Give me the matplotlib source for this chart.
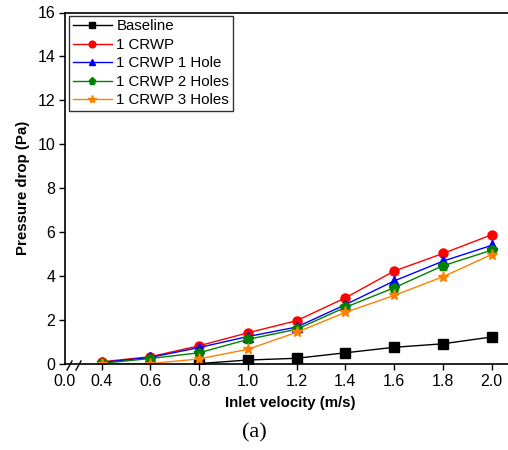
import matplotlib
matplotlib.use("Agg")
import matplotlib.pyplot as plt

plt.rcParams['font.family'] = ['Liberation Sans', 'DejaVu Sans']

velocity = [0.4, 0.6, 0.8, 1.0, 1.2, 1.4, 1.6, 1.8, 2.0]
baseline_v = [0.8, 1.0, 1.2, 1.4, 1.6, 1.8, 2.0]
baseline = [0.02, 0.18, 0.26, 0.51, 0.76, 0.92, 1.23]
crwp = [0.10, 0.33, 0.83, 1.42, 1.97, 3.01, 4.23, 5.03, 5.88]
crwp_1hole = [0.07, 0.30, 0.75, 1.25, 1.68, 2.70, 3.78, 4.68, 5.40]
crwp_2holes = [0.03, 0.25, 0.51, 1.12, 1.58, 2.58, 3.47, 4.47, 5.18]
crwp_3holes = [0.00, 0.02, 0.23, 0.67, 1.44, 2.35, 3.12, 3.97, 4.98]

x_ticks = [0.4, 0.6, 0.8, 1.0, 1.2, 1.4, 1.6, 1.8, 2.0]
x_labels = ['0.4', '0.6', '0.8', '1.0', '1.2', '1.4', '1.6', '1.8', '2.0']
y_ticks = [0, 2, 4, 6, 8, 10, 12, 14, 16]

fig = plt.figure(figsize=(5.08, 4.5), dpi=100)
ax = fig.add_axes([65/508, 86/450, 451/508, 351.5/450])

ms = 6.5
ax.plot(baseline_v, baseline, color='black', marker='s', ms=ms, lw=1, label='Baseline')
ax.plot(velocity, crwp, color='red', marker='o', ms=ms, lw=1, label='1 CRWP')
ax.plot(velocity, crwp_1hole, color='blue', marker='^', ms=ms, lw=1, label='1 CRWP 1 Hole')
ax.plot(velocity, crwp_2holes, color='green', marker='p', ms=ms + 0.5, lw=1, label='1 CRWP 2 Holes')
ax.plot(velocity, crwp_3holes, color='#ff8000', marker='*', ms=ms + 1.5, lw=1, label='1 CRWP 3 Holes')

x_left = 0.25
ax.set_xlim(x_left, 2.1)
ax.set_ylim(0, 16)
ax.set_xticks([x_left] + x_ticks)
ax.set_xticklabels(['0.0'] + x_labels)
ax.xaxis.get_major_ticks()[0].tick1line.set_visible(False)
ax.set_yticks(y_ticks)
ax.tick_params(direction='out', labelsize=11.5, length=4, width=1, pad=3)
ax.spines['right'].set_visible(False)
for s in ['left', 'bottom', 'top']:
    ax.spines[s].set_linewidth(1.2)

# axis break marks
for xp in (67, 76):
    ax.plot([xp / 508, (xp + 5) / 508], [(450 - 370) / 450, (450 - 361) / 450],
            transform=fig.transFigure, color='black', lw=1, clip_on=False)

ax.set_xlabel('Inlet velocity (m/s)', fontsize=10.8, fontweight='bold', labelpad=5)
ax.set_ylabel('Pressure drop (Pa)', fontsize=10.8, fontweight='bold', labelpad=5)

leg = ax.legend(loc='upper left', bbox_to_anchor=(4/451, 1 - 3/351.5), fontsize=10.8,
                frameon=True, fancybox=False, edgecolor='black', borderpad=0.25,
                labelspacing=0.3, handlelength=2.6, handletextpad=0.3, borderaxespad=0,
                markerscale=0.75)
leg.get_frame().set_linewidth(1)

fig.text(254/508, 1 - 433/450, '(a)', family='Liberation Serif', fontsize=16,
         ha='center', va='center')

fig.savefig('out.png', dpi=100)
